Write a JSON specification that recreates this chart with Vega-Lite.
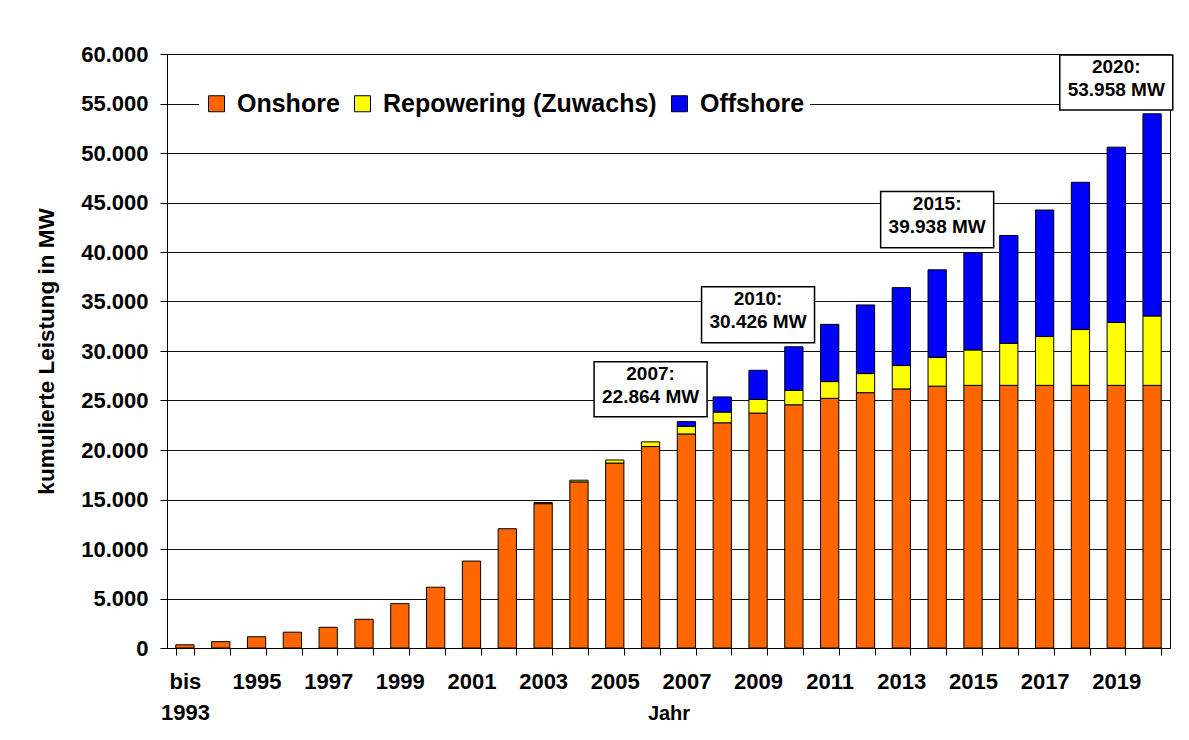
{
  "$schema": "https://vega.github.io/schema/vega-lite/v6.json",
  "width": 1003,
  "height": 594,
  "autosize": "none",
  "padding": {"left": 167, "top": 54, "right": 19, "bottom": 92},
  "background": "white",
  "config": {
    "font": "Liberation Sans",
    "view": {"stroke": "#000", "strokeWidth": 1},
    "axis": {"labelFont": "Liberation Sans", "titleFont": "Liberation Sans", "labelFontWeight": "bold", "titleFontWeight": "bold", "labelColor": "#000", "titleColor": "#000", "domainColor": "#000", "tickColor": "#000", "gridColor": "#111", "gridWidth": 1, "gridOpacity": 1}
  },
  "datasets": {
    "bars": [
      {"Jahr": "bis 1993", "Onshore": 326, "Repowering": 326, "Gesamt": 326},
      {"Jahr": "1994", "Onshore": 643, "Repowering": 643, "Gesamt": 643},
      {"Jahr": "1995", "Onshore": 1137, "Repowering": 1137, "Gesamt": 1137},
      {"Jahr": "1996", "Onshore": 1600, "Repowering": 1600, "Gesamt": 1600},
      {"Jahr": "1997", "Onshore": 2090, "Repowering": 2090, "Gesamt": 2090},
      {"Jahr": "1998", "Onshore": 2900, "Repowering": 2900, "Gesamt": 2900},
      {"Jahr": "1999", "Onshore": 4480, "Repowering": 4480, "Gesamt": 4480},
      {"Jahr": "2000", "Onshore": 6140, "Repowering": 6140, "Gesamt": 6140},
      {"Jahr": "2001", "Onshore": 8780, "Repowering": 8780, "Gesamt": 8780},
      {"Jahr": "2002", "Onshore": 12050, "Repowering": 12050, "Gesamt": 12050},
      {"Jahr": "2003", "Onshore": 14580, "Repowering": 14700, "Gesamt": 14700},
      {"Jahr": "2004", "Onshore": 16780, "Repowering": 16950, "Gesamt": 16950},
      {"Jahr": "2005", "Onshore": 18680, "Repowering": 18990, "Gesamt": 18990},
      {"Jahr": "2006", "Onshore": 20350, "Repowering": 20820, "Gesamt": 20820},
      {"Jahr": "2007", "Onshore": 21620, "Repowering": 22390, "Gesamt": 22864},
      {"Jahr": "2008", "Onshore": 22750, "Repowering": 23830, "Gesamt": 25360},
      {"Jahr": "2009", "Onshore": 23730, "Repowering": 25120, "Gesamt": 28050},
      {"Jahr": "2010", "Onshore": 24570, "Repowering": 26030, "Gesamt": 30426},
      {"Jahr": "2011", "Onshore": 25220, "Repowering": 26910, "Gesamt": 32690},
      {"Jahr": "2012", "Onshore": 25790, "Repowering": 27720, "Gesamt": 34650},
      {"Jahr": "2013", "Onshore": 26170, "Repowering": 28530, "Gesamt": 36400},
      {"Jahr": "2014", "Onshore": 26450, "Repowering": 29360, "Gesamt": 38200},
      {"Jahr": "2015", "Onshore": 26530, "Repowering": 30110, "Gesamt": 39938},
      {"Jahr": "2016", "Onshore": 26530, "Repowering": 30780, "Gesamt": 41670},
      {"Jahr": "2017", "Onshore": 26530, "Repowering": 31460, "Gesamt": 44240},
      {"Jahr": "2018", "Onshore": 26530, "Repowering": 32170, "Gesamt": 47040},
      {"Jahr": "2019", "Onshore": 26530, "Repowering": 32880, "Gesamt": 50590},
      {"Jahr": "2020", "Onshore": 26530, "Repowering": 33540, "Gesamt": 53958}
    ],
    "notes": [
      {"Jahr": "2006", "text": "2007:\n22.864 MW", "lo": 23360, "hi": 28920, "first": 27680},
      {"Jahr": "2009", "text": "2010:\n30.426 MW", "lo": 30840, "hi": 36500, "first": 35220},
      {"Jahr": "2014", "text": "2015:\n39.938 MW", "lo": 40440, "hi": 46100, "first": 44850},
      {"Jahr": "2019", "text": "2020:\n53.958 MW", "lo": 54340, "hi": 59900, "first": 58690}
    ]
  },
  "data": {"name": "bars"},
  "encoding": {
    "x": {
      "field": "Jahr", "type": "ordinal", "sort": null,
      "scale": {"paddingInner": 0.49, "paddingOuter": 0.245},
      "axis": {
        "title": "Jahr", "titleFontSize": 20, "titleBaseline": "middle", "titleY": 65,
        "labelFontSize": 22, "labelAngle": 0, "labelOverlap": false, "labelPadding": 16, "labelLineHeight": 31,
        "labelExpr": "datum.value == 'bis 1993' ? ['bis', '1993'] : (toNumber(datum.value) % 2 == 1 ? datum.value : '')",
        "tickBand": "extent", "tickSize": 7, "grid": false
      }
    }
  },
  "layer": [
    {
      "mark": {"type": "bar", "stroke": "#000", "strokeWidth": 1},
      "encoding": {
        "y": {"field": "Onshore", "type": "quantitative",
          "scale": {"domain": [0, 60000], "nice": false},
          "axis": {"title": "kumulierte Leistung in MW", "titleFontSize": 22.5, "titlePadding": 22,
            "values": [0, 5000, 10000, 15000, 20000, 25000, 30000, 35000, 40000, 45000, 50000, 55000, 60000],
            "labelExpr": "replace(format(datum.value, ',d'), ',', '.')",
            "labelFontSize": 22, "tickSize": 7, "labelPadding": 12, "grid": true}},
        "color": {"datum": "Onshore", "type": "nominal",
          "scale": {"domain": ["Onshore", "Repowering (Zuwachs)", "Offshore"], "range": ["#FF6600", "#FFFF00", "#0000FF"]},
          "legend": {"title": null, "orient": "none", "legendX": 32, "legendY": 32, "direction": "horizontal", "columns": 3,
            "labelFont": "Liberation Sans", "labelFontWeight": "bold", "labelFontSize": 25, "labelColor": "#000", "labelOffset": 8, "labelLimit": 500,
            "columnPadding": 10, "symbolType": "square", "symbolSize": 256, "symbolStrokeColor": "#000", "symbolStrokeWidth": 1,
            "symbolOpacity": 1, "fillColor": "white", "padding": 5}}
      }
    },
    {
      "transform": [{"filter": "datum.Repowering > datum.Onshore"}],
      "mark": {"type": "bar", "stroke": "#000", "strokeWidth": 1},
      "encoding": {
        "y": {"field": "Onshore", "type": "quantitative"},
        "y2": {"field": "Repowering"},
        "color": {"datum": "Repowering (Zuwachs)", "type": "nominal"}
      }
    },
    {
      "transform": [{"filter": "datum.Gesamt > datum.Repowering"}],
      "mark": {"type": "bar", "stroke": "#000", "strokeWidth": 1},
      "encoding": {
        "y": {"field": "Repowering", "type": "quantitative"},
        "y2": {"field": "Gesamt"},
        "color": {"datum": "Offshore", "type": "nominal"}
      }
    },
    {
      "data": {"name": "notes"},
      "mark": {"type": "bar", "width": 113, "fill": "white", "stroke": "#000", "strokeWidth": 1.5, "clip": false},
      "encoding": {
        "y": {"field": "lo", "type": "quantitative"},
        "y2": {"field": "hi"}
      }
    },
    {
      "data": {"name": "notes"},
      "mark": {"type": "text", "lineBreak": "\n", "fontSize": 19, "fontWeight": "bold", "font": "Liberation Sans", "color": "#000", "lineHeight": 23, "baseline": "middle", "align": "center"},
      "encoding": {
        "y": {"field": "first", "type": "quantitative"},
        "text": {"field": "text"}
      }
    }
  ]
}
